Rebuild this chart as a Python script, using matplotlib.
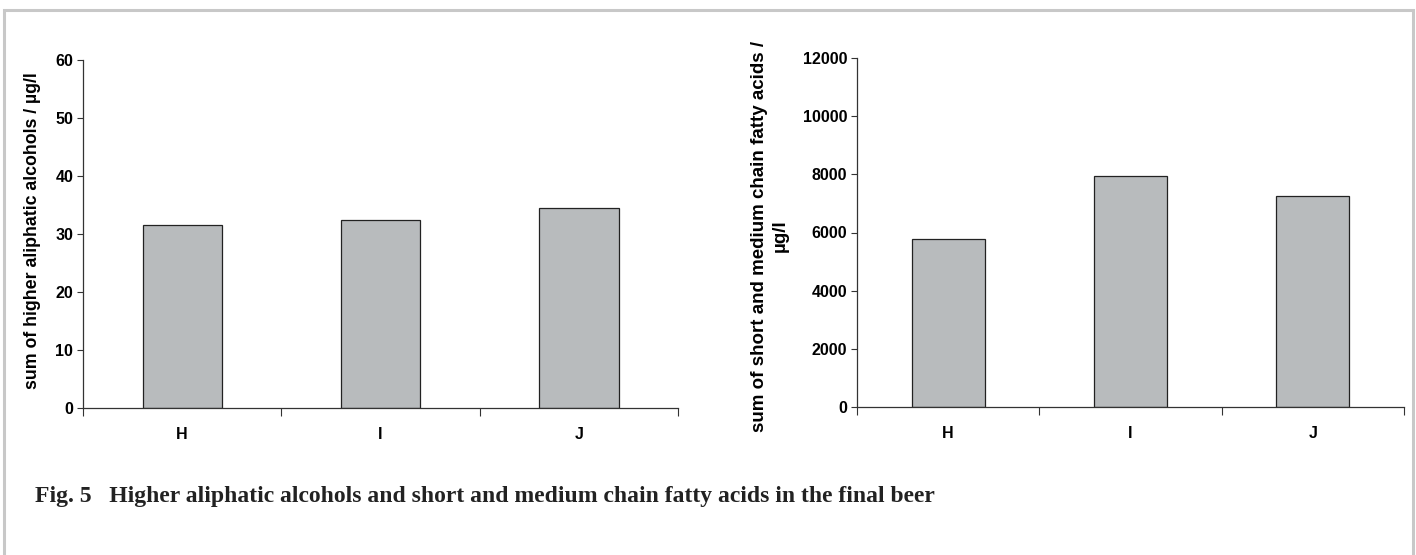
import matplotlib
matplotlib.use("Agg")
import matplotlib.pyplot as plt
from matplotlib.patches import Rectangle
import numpy as np

samples = ["H", "I", "J"]
alcohols = [31.5, 32.4, 34.4]
fatty_acids = [5770, 7930, 7270]

alc_ticks = [0, 10, 20, 30, 40, 50, 60]
fa_ticks = [0, 2000, 4000, 6000, 8000, 10000, 12000]

alc_label = "sum of higher aliphatic alcohols / µg/l"
fa_label = "sum of short and medium chain fatty acids /\nµg/l"
caption = ("Fig. 5   Higher aliphatic alcohols and short and medium chain "
           "fatty acids in the final beer")

sans = ["Liberation Sans", "DejaVu Sans"]
serif = ["Liberation Serif", "DejaVu Serif"]

BAR = "#b8bbbd"
AXC = "#333333"

fig = plt.figure(figsize=(14.16, 5.55), dpi=100)

# light grey frame round the figure
fig.add_artist(Rectangle((4 / 1416, -0.05), 1409 / 1416, 1.05 - 10 / 555,
                         transform=fig.transFigure, fill=False,
                         edgecolor="#c8c8c8", linewidth=2.2))


def draw(rect, vals, ticks, label, label_size, label_x, label_y):
    ax = fig.add_axes(rect)
    x = np.arange(len(samples))
    ax.bar(x, vals, width=0.4, color=BAR, edgecolor="#222222", linewidth=0.9)
    ax.set_xlim(-0.5, len(samples) - 0.5)
    ax.set_ylim(ticks[0], ticks[-1])
    ax.set_yticks(ticks)
    ax.set_yticklabels([str(t) for t in ticks], family=sans,
                       fontweight="bold", fontsize=11.5)
    ax.set_xticks(x)
    ax.set_xticklabels(samples, family=sans, fontweight="bold", fontsize=11.5)
    ax.set_xticks(np.arange(len(samples) + 1) - 0.5, minor=True)
    ax.tick_params(axis="x", which="major", length=0, pad=14)
    ax.tick_params(axis="x", which="minor", length=6, width=0.8, color=AXC)
    ax.tick_params(axis="y", length=4, width=0.8, color=AXC, pad=3)
    for s in ("top", "right"):
        ax.spines[s].set_visible(False)
    for s in ("left", "bottom"):
        ax.spines[s].set_color(AXC)
        ax.spines[s].set_linewidth(0.9)
    ax.set_ylabel(label, family=sans, fontweight="bold", fontsize=label_size,
                  linespacing=1.3)
    ax.yaxis.set_label_coords(label_x, label_y)
    return ax


draw([83 / 1416, 1 - 408 / 555, 595 / 1416, 348 / 555],
     alcohols, alc_ticks, alc_label, 12.8, -0.07, 0.51)
draw([857 / 1416, 1 - 407 / 555, 547 / 1416, 349 / 555],
     fatty_acids, fa_ticks, fa_label, 13.5, -0.124, 0.49)

fig.text(35 / 1416, 1 - 502 / 555, caption, family=serif, fontweight="bold",
         fontsize=17, va="baseline", ha="left", color="#222222")

fig.savefig("out.png", dpi=100)
